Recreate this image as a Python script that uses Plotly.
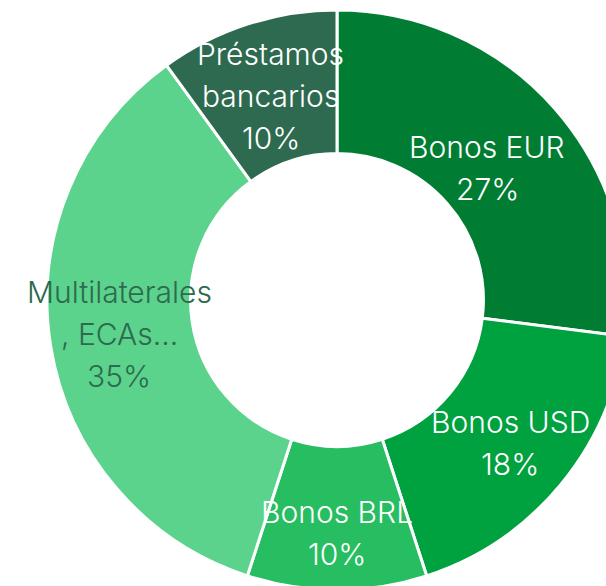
import math
import plotly.graph_objects as go

# ——— Data ———
LABELS = ["Bonos EUR", "Bonos USD", "Bonos BRL", "Multilaterales, ECAs...", "Préstamos bancarios"]
TEXT_LINES = [
    ["Bonos EUR", "27%"],
    ["Bonos USD", "18%"],
    ["Bonos BRL", "10%"],
    ["Multilaterales", ", ECAs...", "35%"],
    ["Préstamos", "bancarios", "10%"],
]
VALUES = [27, 18, 10, 35, 10]
# ——————————————————

# ——— Style ———
COLORS      = ["#007D32", "#00A13F", "#27BD61", "#5CD38C", "#2D6A4F"]
TEXT_COLORS = ["#FFFFFF", "#FFFFFF", "#FFFFFF", "#2D6A4F", "#FFFFFF"]
LABEL_RADIUS = [0.69, 0.775, 0.805, 0.76, 0.74]   # fraction of outer radius
FONT = "Inter"
FONT_SIZE = 30
LINE_GAP = 42   # px between text lines
# ——————————————————

fig = go.Figure(go.Pie(
    labels=LABELS,
    values=VALUES,
    hole=0.505,
    sort=False,
    direction="clockwise",
    rotation=0,
    textinfo="none",
    hoverinfo="label+percent",
    marker=dict(colors=COLORS, line=dict(color="white", width=3)),
))

# labels placed at the middle angle of each slice
total = sum(VALUES)
start = 0.0
annotations = []
for lines, val, col, rf in zip(TEXT_LINES, VALUES, TEXT_COLORS, LABEL_RADIUS):
    mid = (start + val / 2) / total * 2 * math.pi
    start += val
    x = 0.5 + 0.5 * rf * math.sin(mid)
    y = 0.5 + 0.5 * rf * math.cos(mid)
    n = len(lines)
    for i, line in enumerate(lines):
        annotations.append(dict(
            x=x, y=y, xref="paper", yref="paper",
            text=line, showarrow=False,
            xanchor="center", yanchor="middle",
            yshift=((n - 1) / 2 - i) * LINE_GAP,
            font=dict(family=FONT, size=FONT_SIZE, color=col, weight=300),
        ))

fig.update_layout(
    width=627, height=590,
    margin=dict(l=47, r=0, t=10, b=0),
    showlegend=False,
    paper_bgcolor="white",
    plot_bgcolor="white",
    annotations=annotations,
)

fig.write_html(
    "out.html",
    config={"displayModeBar": False},
    post_script="document.body.style.margin='0';"
                "document.body.style.overflow='hidden';"
                "document.documentElement.style.overflow='hidden';",
)
